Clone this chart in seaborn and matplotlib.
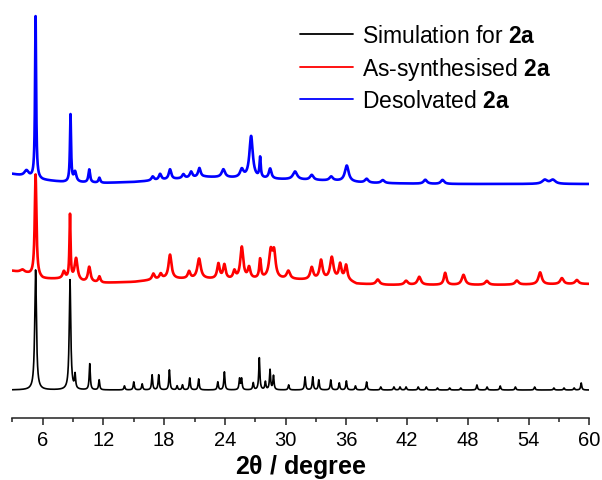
import numpy as np
import pandas as pd
import matplotlib
matplotlib.use("Agg")
import matplotlib.pyplot as plt
import seaborn as sns

# ---------------- data ----------------
# peak positions (2theta, degree), heights (arbitrary units above baseline), widths (FWHM, degree)
sim_pos = [5.3, 8.7, 9.2, 10.65, 11.58, 14.08, 15.0, 15.83, 16.81, 17.46, 18.52, 19.28, 19.81,
           20.53, 21.41, 23.3, 23.95, 25.45, 25.65, 26.8, 27.4, 28.0, 28.46, 28.8, 30.3, 31.92,
           32.68, 33.28, 34.46, 35.3, 36.0, 36.9, 38.0, 39.4, 40.7, 41.3, 41.9, 43.1, 43.9,
           45.0, 46.2, 47.3, 48.9, 49.9, 51.2, 52.7, 54.6, 56.5, 57.5, 58.5, 59.2]
sim_h = [120, 110, 14, 26, 10, 4, 8, 6, 15, 15, 20, 4, 5,
         12, 11, 8, 18, 11, 11, 7, 32, 8, 20, 14, 5, 13,
         13, 10, 10, 7, 9, 4, 8, 3, 3, 3, 3, 3, 3,
         2, 2, 2, 5, 3, 4, 3, 3, 2, 2, 2, 7]
sim_w = [0.2, 0.18] + [0.13] * 49
sim_base_x = [3, 60]
sim_base_y = [28, 28]

syn_pos = [4.0, 5.3, 8.1, 8.7, 9.3, 10.6, 11.6, 16.93, 17.66, 18.58, 20.46, 21.45, 23.36, 23.95,
           24.94, 25.67, 26.39, 27.48, 28.53, 28.86, 30.27, 32.58, 33.5, 34.56, 35.38, 35.97,
           39.1, 41.9, 43.2, 45.76, 47.57, 49.88, 52.84, 55.14, 57.29, 58.77]
syn_h = [3, 102, 7, 64, 22, 15, 6, 6, 5, 24, 7, 20, 15, 14,
         8, 32, 11, 19, 26, 24, 8, 12, 19, 22, 15, 14,
         5, 4, 8, 12, 10, 4, 4, 12, 6, 4]
syn_w = [0.5, 0.2, 0.3, 0.13, 0.35, 0.3, 0.25, 0.3, 0.3, 0.35, 0.3, 0.4, 0.3, 0.3,
         0.3, 0.35, 0.3, 0.2, 0.4, 0.35, 0.4, 0.35, 0.35, 0.4, 0.3, 0.3,
         0.4, 0.4, 0.4, 0.3, 0.4, 0.4, 0.4, 0.4, 0.4, 0.4]
syn_base_x = [3, 4.5, 6, 8, 10, 12, 15, 18, 22, 25, 28, 32, 36, 37, 40, 50, 60]
syn_base_y = [147, 144, 139, 139, 136, 135, 136, 139, 139, 138, 139, 138, 138, 134, 133, 133, 134]

des_pos = [4.4, 5.3, 8.75, 9.2, 10.6, 11.6, 16.87, 17.6, 18.58, 19.9, 20.66, 21.48, 23.85,
           25.67, 26.59, 27.48, 28.47, 30.93, 32.58, 34.5, 36.04, 38.0, 39.6, 43.8, 45.5,
           55.6, 56.4]
des_h = [6, 162, 67, 10, 13, 5, 4, 6, 10, 4, 6, 9, 8,
         8, 42, 20, 10, 8, 5, 4, 16, 4, 3, 4, 4,
         4, 4]
des_w = [0.5, 0.13, 0.13, 0.3, 0.2, 0.2, 0.3, 0.3, 0.3, 0.3, 0.3, 0.3, 0.4,
         0.4, 0.4, 0.15, 0.3, 0.5, 0.4, 0.4, 0.45, 0.4, 0.4, 0.4, 0.4,
         0.6, 0.6]
des_base_x = [3, 6, 8, 12, 15, 18, 22, 25, 28, 32, 35, 38, 45, 52, 60]
des_base_y = [244, 238, 236, 235, 236, 238, 241, 240, 239, 238, 237, 235, 234, 234, 234]

labels = [r"Simulation for $\mathbf{2a}$", r"As-synthesised $\mathbf{2a}$", r"Desolvated $\mathbf{2a}$"]
colors = ["#000000", "#ff0000", "#0000ff"]
x_ticks = [6, 12, 18, 24, 30, 36, 42, 48, 54, 60]

# ---------------- build patterns ----------------
tt = np.arange(3.0, 60.0001, 0.01)


def pattern(pos, h, w, bx, by):
    y = np.interp(tt, bx, by).astype(float)
    for p, a, fw in zip(pos, h, w):
        g = (fw / 2) ** 2
        y += a * g / ((tt - p) ** 2 + g)
    return y


frames = []
for lab, spec in zip(labels, [(sim_pos, sim_h, sim_w, sim_base_x, sim_base_y),
                              (syn_pos, syn_h, syn_w, syn_base_x, syn_base_y),
                              (des_pos, des_h, des_w, des_base_x, des_base_y)]):
    frames.append(pd.DataFrame({"tt": tt, "I": pattern(*spec), "series": lab}))
df = pd.concat(frames, ignore_index=True)

# ---------------- plotting ----------------
sns.set_theme(style="white")
plt.rcParams["font.family"] = ["Liberation Sans", "DejaVu Sans"]
plt.rcParams["mathtext.fontset"] = "custom"
plt.rcParams["mathtext.rm"] = "Liberation Sans"
plt.rcParams["mathtext.bf"] = "Liberation Sans:bold"
plt.rcParams["text.color"] = "black"
plt.rcParams["xtick.color"] = "#222222"
plt.rcParams["xtick.labelcolor"] = "black"
plt.rcParams["axes.labelcolor"] = "black"

fig = plt.figure(figsize=(6.02, 4.81), dpi=100)
ax = fig.add_axes([12.3 / 602, 1 - 419 / 481, (589.3 - 12.3) / 602, (419 - 5) / 481])

lws = [1.2, 1.9, 1.9]
for lab, c, lw in zip(labels, colors, lws):
    sns.lineplot(data=df[df["series"] == lab], x="tt", y="I", color=c, linewidth=lw,
                 estimator=None, sort=False, ax=ax, label=lab)

ax.set_xlim(3, 60)
ax.set_ylim(0, 414)
for s in ["left", "right", "top"]:
    ax.spines[s].set_visible(False)
ax.spines["bottom"].set_color("#222222")
ax.spines["bottom"].set_linewidth(1.1)
ax.set_yticks([])
ax.set_ylabel("")
ax.set_xticks(x_ticks)
ax.set_xticks(np.arange(3, 60, 6), minor=True)
ax.tick_params(axis="x", which="major", direction="out", length=5, width=1.1,
               color="#222222", labelcolor="black", labelsize=14.5, pad=4, bottom=True)
ax.tick_params(axis="x", which="minor", direction="out", length=3.2, width=1.1,
               color="#222222", bottom=True)
ax.set_xlabel(r"2$\mathbf{\theta}$ / degree", fontsize=18, fontweight="bold", labelpad=2,
              color="black")

handles, labs = ax.get_legend_handles_labels()
leg = ax.legend(handles, labs, loc="upper left", bbox_to_anchor=(300 / 602, 1 - 25 / 481),
                bbox_transform=fig.transFigure, frameon=False, fontsize=16.5,
                handlelength=2.3, handletextpad=0.4, labelspacing=0.33,
                borderpad=0, borderaxespad=0)
for line in leg.get_lines():
    line.set_linewidth(1.3)
for t in leg.get_texts():
    t.set_color("black")

fig.savefig("out.png", dpi=100)
